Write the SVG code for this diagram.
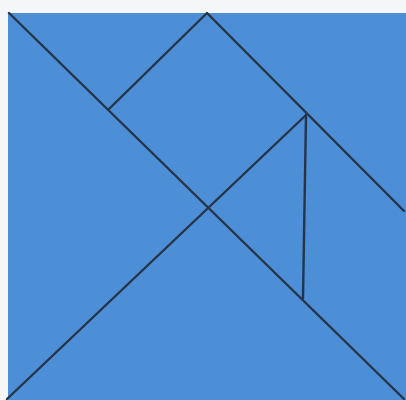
<svg xmlns="http://www.w3.org/2000/svg" width="406" height="400" viewBox="0 0 406 400">
<style>.e{stroke:#263447;stroke-width:2.4;fill:none;stroke-linecap:round;stroke-linejoin:round}</style>
<rect width="406" height="400" fill="#f5f6f8"/>
<rect x="8" y="13" width="398" height="387" fill="#4c8fd6"/>
<g id="lines" class="e">
<line x1="9" y1="13" x2="404" y2="399"/>
<line x1="7" y1="399" x2="306" y2="115"/>
<polyline points="109,109 207,13 404,211"/>
<line x1="306" y1="115" x2="303" y2="298"/>
</g>
</svg>
